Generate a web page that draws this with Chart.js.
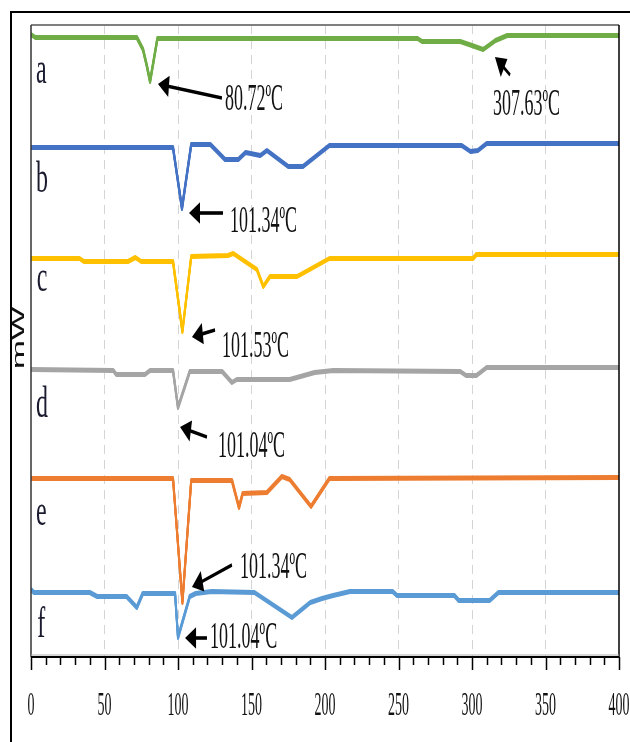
<!DOCTYPE html>
<html>
<head>
<meta charset="utf-8">
<script src="https://cdn.jsdelivr.net/npm/chart.js@4/dist/chart.umd.min.js"></script>
<style>
html,body{margin:0;padding:0;background:#fff;}
#wrap{width:630px;height:742px;position:relative;}
</style>
</head>
<body>
<div id="wrap"><canvas id="dsc" width="630" height="742"></canvas></div>
<script>
// ---- data (temperature in degC, heat flow in relative mW with curve offsets) ----
const tempA = [0, 3, 72, 76.2, 78.9, 81, 86, 263, 266, 292, 298, 307.6, 316, 324, 400];
const mwA   = [62.2, 61.9, 61.9, 60.7, 59.0, 57.5, 61.8, 61.8, 61.5, 61.5, 61.2, 60.7, 61.6, 62.1, 62.1];

const tempB = [0, 96.6, 102.7, 109, 122, 132, 141, 146, 156, 160.5, 175, 185, 203, 293, 299, 304, 310, 400];
const mwB   = [50.9, 50.9, 44.8, 51.2, 51.2, 49.7, 49.7, 50.4, 50.1, 50.6, 49.0, 49.0, 51.1, 51.1, 50.5, 50.6, 51.3, 51.3];

const tempC = [0, 33, 36, 66, 71, 75, 96.6, 103, 109, 134, 137.6, 153.7, 158, 162.6, 181, 203, 300.7, 303, 400];
const mwC   = [39.8, 39.8, 39.5, 39.5, 39.9, 39.5, 39.5, 32.5, 40.0, 40.1, 40.3, 38.7, 37.0, 38.0, 38.0, 39.8, 39.8, 40.2, 40.2];

const tempD = [0, 56, 58, 77.5, 81, 96.6, 100, 108, 130, 136.7, 140, 176, 193, 205.6, 292, 296, 303, 310, 400];
const mwD   = [28.7, 28.6, 28.2, 28.2, 28.6, 28.6, 24.9, 28.5, 28.5, 27.4, 27.7, 27.7, 28.4, 28.6, 28.5, 28.1, 28.1, 28.9, 28.9];

const tempE = [0, 96.6, 103, 109, 136.7, 141.5, 144, 160.5, 170.7, 176, 190.5, 203, 400];
const mwE   = [17.8, 17.8, 5.4, 17.6, 17.6, 14.9, 16.3, 16.4, 18.0, 17.7, 15.0, 17.8, 17.9];

const tempF = [0, 2, 40, 45, 65, 72, 76, 98, 100, 108, 112, 123, 152, 177.5, 190, 198, 205.5, 217, 246, 249, 288, 291, 312, 318, 400];
const mwF   = [6.7, 6.4, 6.4, 6.0, 6.0, 4.9, 6.3, 6.3, 1.9, 6.0, 6.3, 6.5, 6.4, 3.9, 5.4, 5.8, 6.1, 6.5, 6.5, 6.1, 6.1, 5.6, 5.6, 6.4, 6.4];

const curveNames  = ['a', 'b', 'c', 'd', 'e', 'f'];
const peakLabels  = ['80.72ºC', '307.63ºC', '101.34ºC', '101.53ºC', '101.04ºC', '101.34ºC', '101.04ºC'];
const xTickLabels = ['0', '50', '100', '150', '200', '250', '300', '350', '400'];
const yTitle = 'mW';

const COLORS = ['#70AD47', '#4472C4', '#FFC000', '#A5A5A5', '#ED7D31', '#5B9BD5'];

function pts(xs, ys) { return xs.map((x, i) => ({ x: x, y: ys[i] })); }
const series = [[tempA, mwA], [tempB, mwB], [tempC, mwC], [tempD, mwD], [tempE, mwE], [tempF, mwF]];

// annotation layout (data units): arrow tail -> tip, label anchor
const ANNOT = [
  { tail: [129.9, 55.9], tip: [86.4, 57.3],  text: [132, 55.7] },
  { tail: [325.9, 58.2], tip: [315.6, 60.0], text: [314.3, 55.2] },
  { tail: [130.6, 44.4], tip: [107.5, 44.4], text: [135.4, 43.5] },
  { tail: [125.2, 32.7], tip: [109.5, 32.0], text: [129.9, 31.0] },
  { tail: [119.7, 22.0], tip: [101.4, 23.0], text: [127.2, 21.0] },
  { tail: [136.7, 9.2],  tip: [109.5, 7.0],  text: [142.2, 8.9] },
  { tail: [119.7, 1.9],  tip: [104.8, 1.9],  text: [121.8, 1.9] },
];
const LETTER_POS = [[3.4, 57.4], [3.4, 46.5], [3.9, 36.6], [3.4, 24.0], [3.4, 13.2], [4.2, 2.0]];

function stretchText(ctx, txt, x, y, font, sy, align, base) {
  ctx.save();
  ctx.translate(x, y);
  ctx.scale(1, sy);
  ctx.font = font;
  ctx.textAlign = align || 'left';
  ctx.textBaseline = base || 'middle';
  ctx.fillText(txt, 0, 0);
  ctx.restore();
}

function arrow(ctx, x1, y1, x2, y2) {
  const sy = 1.8;
  ctx.save();
  ctx.translate(x2, y2);
  ctx.scale(1, sy);
  const dx = x1 - x2, dy = (y1 - y2) / sy;
  const len = Math.hypot(dx, dy), ux = dx / len, uy = dy / len;
  const hl = 11, hw = 6;
  ctx.strokeStyle = '#000'; ctx.fillStyle = '#000'; ctx.lineWidth = 2;
  ctx.beginPath(); ctx.moveTo(ux * hl * 0.8, uy * hl * 0.8); ctx.lineTo(dx, dy); ctx.stroke();
  ctx.beginPath();
  ctx.moveTo(0, 0);
  ctx.lineTo(ux * hl - uy * hw, uy * hl + ux * hw);
  ctx.lineTo(ux * hl + uy * hw, uy * hl - ux * hw);
  ctx.closePath(); ctx.fill();
  ctx.restore();
}

// thick horizontal / thin vertical strokes like the stretched original
const brush = {
  id: 'brush',
  beforeDatasetDraw(chart, args) {
    const ctx = chart.ctx, a = chart.chartArea;
    ctx.save();
    ctx.beginPath(); ctx.rect(a.left, a.top, a.right - a.left, a.bottom - a.top); ctx.clip();
    [-2, -1, 0, 1].forEach(dy => {
      ctx.save(); ctx.translate(0, dy); args.meta.controller.draw(); ctx.restore();
    });
    ctx.restore();
    return false;
  }
};

const decor = {
  id: 'decor',
  afterDraw(chart) {
    const ctx = chart.ctx, a = chart.chartArea;
    const xs = chart.scales.x, ys = chart.scales.y;
    ctx.save();
    // outer frame
    ctx.strokeStyle = '#000'; ctx.lineWidth = 2;
    ctx.beginPath(); ctx.moveTo(11, 742); ctx.lineTo(11, 12); ctx.lineTo(630, 12); ctx.stroke();
    // plot borders
    ctx.strokeStyle = '#7f7f7f'; ctx.lineWidth = 2;
    ctx.beginPath(); ctx.moveTo(a.left, a.top); ctx.lineTo(a.right, a.top); ctx.stroke();
    ctx.strokeStyle = '#333'; ctx.lineWidth = 1.5;
    ctx.beginPath(); ctx.moveTo(a.left, a.top); ctx.lineTo(a.left, a.bottom); ctx.stroke();
    ctx.strokeStyle = '#000';
    ctx.beginPath(); ctx.moveTo(a.right, a.top); ctx.lineTo(a.right, a.bottom); ctx.stroke();
    ctx.strokeStyle = '#b0b0b0'; ctx.lineWidth = 1;
    ctx.beginPath(); ctx.moveTo(a.left, a.bottom - 2); ctx.lineTo(a.right, a.bottom - 2); ctx.stroke();
    ctx.strokeStyle = '#000'; ctx.lineWidth = 2;
    ctx.beginPath(); ctx.moveTo(a.left, a.bottom); ctx.lineTo(a.right, a.bottom); ctx.stroke();
    // tick marks: minor every 10, major every 50
    ctx.lineWidth = 1.5;
    for (let v = 0; v <= 400; v += 10) {
      const px = Math.round(xs.getPixelForValue(v)) + 0.5;
      const len = v % 50 === 0 ? 13 : 8;
      ctx.beginPath(); ctx.moveTo(px, a.bottom); ctx.lineTo(px, a.bottom + len); ctx.stroke();
    }
    // tick labels
    ctx.fillStyle = '#111';
    xTickLabels.forEach(t => {
      stretchText(ctx, t, xs.getPixelForValue(Number(t)), 706, '14px "Liberation Sans Narrow"', 2.4, 'center');
    });
    // y title
    ctx.save();
    ctx.translate(20, 338);
    ctx.rotate(-Math.PI / 2);
    ctx.scale(2.2, 1);
    ctx.font = '16px "Liberation Sans"';
    ctx.textAlign = 'center'; ctx.textBaseline = 'middle';
    ctx.fillStyle = '#111';
    ctx.fillText(yTitle, 0, 0);
    ctx.restore();
    // curve letters
    ctx.fillStyle = '#1b1b2f';
    curveNames.forEach((n, i) => {
      const p = LETTER_POS[i];
      stretchText(ctx, n, xs.getPixelForValue(p[0]), ys.getPixelForValue(p[1]), '24px "Liberation Serif"', 1.85, 'left', 'alphabetic');
    });
    // peak annotations
    ctx.fillStyle = '#111';
    ANNOT.forEach((an, i) => {
      arrow(ctx, xs.getPixelForValue(an.tail[0]), ys.getPixelForValue(an.tail[1]),
                 xs.getPixelForValue(an.tip[0]), ys.getPixelForValue(an.tip[1]));
      stretchText(ctx, peakLabels[i], xs.getPixelForValue(an.text[0]), ys.getPixelForValue(an.text[1]),
                  '18px "Liberation Sans Narrow"', 2.1, 'left');
    });
    ctx.restore();
  }
};

new Chart(document.getElementById('dsc').getContext('2d'), {
  type: 'line',
  data: {
    datasets: series.map((s, i) => ({
      label: curveNames[i],
      data: pts(s[0], s[1]),
      borderColor: COLORS[i],
      borderWidth: 2,
      borderJoinStyle: 'round',
      pointRadius: 0,
      tension: 0,
      fill: false
    }))
  },
  options: {
    responsive: false,
    animation: false,
    events: [],
    layout: { padding: { left: 31, top: 25, right: 11, bottom: 85 } },
    plugins: { legend: { display: false }, tooltip: { enabled: false } },
    scales: {
      x: {
        type: 'linear', min: 0, max: 400,
        ticks: { stepSize: 50, display: false },
        grid: {
          drawTicks: false,
          lineWidth: 1,
          color: c => (c.tick && (c.tick.value === 0 || c.tick.value === 400)) ? 'rgba(0,0,0,0)' : '#d4d4d4'
        },
        border: { display: false, dash: [9, 6] }
      },
      y: {
        type: 'linear', min: 0, max: 63.2, display: false
      }
    }
  },
  plugins: [brush, decor]
});
</script>
</body>
</html>
